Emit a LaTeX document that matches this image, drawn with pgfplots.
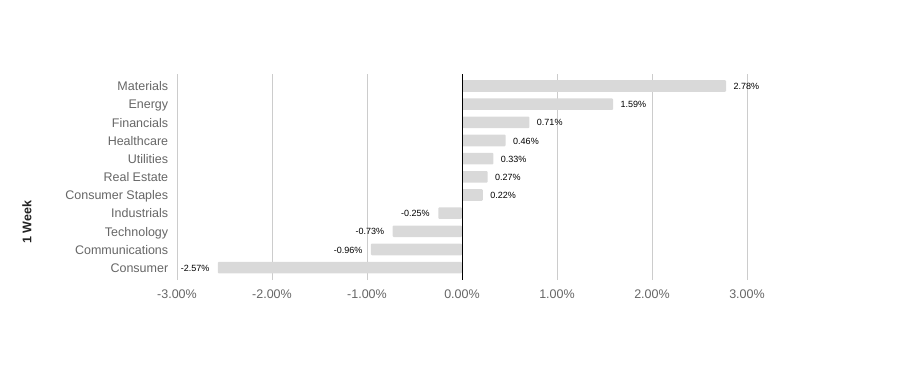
\documentclass[border=0pt]{standalone}
\usepackage{pgfplots}
\pgfplotsset{compat=1.18}
\usepackage{fontspec}
\setmainfont{Liberation Sans}
\definecolor{barfill}{RGB}{217,217,217}
\definecolor{gridc}{RGB}{204,204,204}
\definecolor{labc}{RGB}{102,102,102}
\definecolor{titc}{RGB}{34,34,34}
\begin{document}
\begin{tikzpicture}[x=1pt,y=1pt]
\path[use as bounding box] (0,0) rectangle (924,391);
\begin{axis}[
  at={(177pt,111pt)}, anchor=south west,
  scale only axis, width=570pt, height=206pt,
  xmin=-3, xmax=3, ymin=-0.68, ymax=10.66,
  xbar, bar width=11.6pt, bar shift=0pt,
  axis line style={draw=none},
  tick style={draw=none},
  xmajorgrids, major grid style={gridc, line width=0.8pt},
  xtick={-3,-2,-1,0,1,2,3},
  xticklabel={\pgfmathprintnumber[fixed,fixed zerofill,precision=2]{\tick}\%},
  /pgf/number format/assume math mode=true,
  xticklabel style={font=\fontsize{12.5}{14}\selectfont, text=labc, yshift=-6pt},
  ytick={0,1,2,3,4,5,6,7,8,9,10},
  yticklabels={Consumer,Communications,Technology,Industrials,Consumer Staples,Real Estate,Utilities,Healthcare,Financials,Energy,Materials},
  yticklabel style={font=\fontsize{12.5}{14}\selectfont, text=labc, xshift=-1pt, yshift=-1.5pt,
    text height=1.6ex, text depth=0.35ex},
  nodes near coords={\pgfmathprintnumber[fixed,fixed zerofill,precision=2]{\pgfplotspointmeta}\%},
  nodes near coords style={font=\fontsize{9}{10}\selectfont, text=black, yshift=-0.5pt},
  clip=false,
]
\addplot[fill=barfill, draw=none, rounded corners=1pt,
  every node near coord/.append style={anchor=west, xshift=4pt}]
  coordinates {(2.78,10) (1.59,9) (0.71,8) (0.46,7) (0.33,6) (0.27,5) (0.22,4)};
\addplot[fill=barfill, draw=none, rounded corners=1pt,
  every node near coord/.append style={anchor=east, xshift=-5pt}]
  coordinates {(-0.25,3) (-0.73,2) (-0.96,1) (-2.57,0)};
\draw[black, line width=0.8pt] (axis cs:0,-0.68) -- (axis cs:0,10.66);
\end{axis}
\node[rotate=90, font=\fontsize{12.5}{14}\selectfont\bfseries, text=titc] at (27,169) {1 Week};
\end{tikzpicture}
\end{document}
